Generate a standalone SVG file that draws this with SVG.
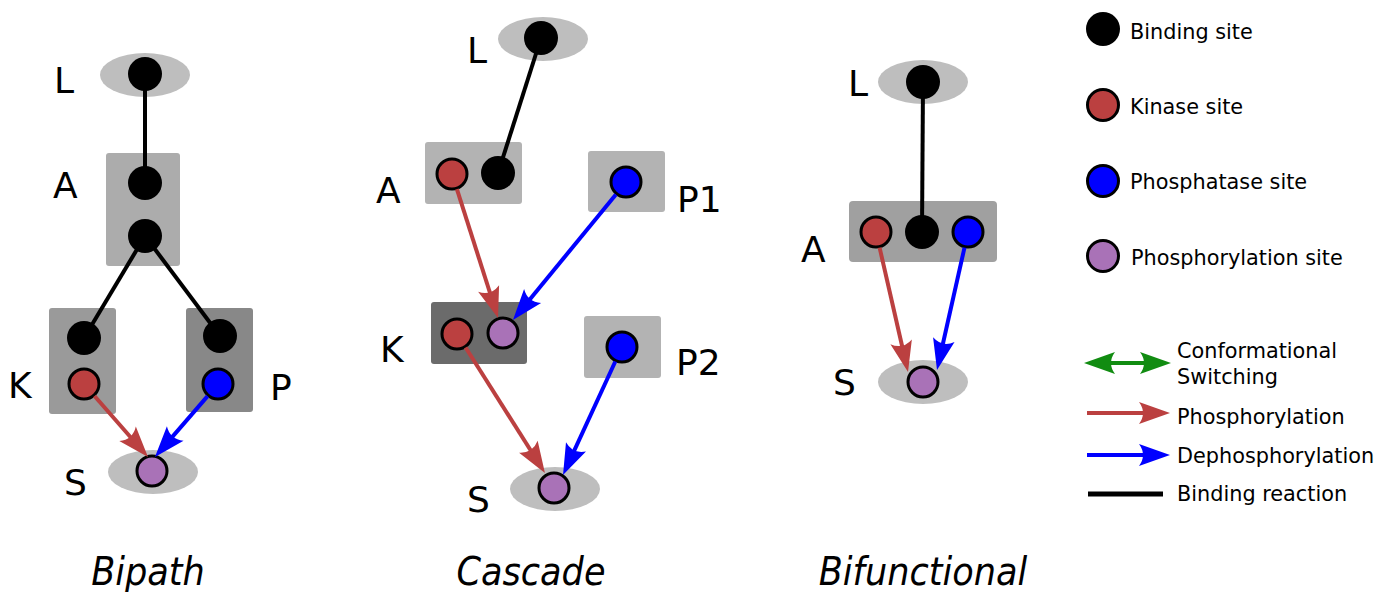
<svg xmlns="http://www.w3.org/2000/svg" width="1391" height="592" viewBox="0 0 1391 592">
<style>
text{font-family:"DejaVu Sans","Liberation Sans",sans-serif;fill:#000}
.lbl{font-size:36px}
.leg{font-size:20.8px}
.title{font-family:"DejaVu Sans Condensed","DejaVu Sans",sans-serif;font-stretch:condensed;font-style:oblique;font-size:39px;text-anchor:middle}
.ell{fill:#bebebe}
.bind{fill:#000}
.kin{fill:#bb4040;stroke:#000;stroke-width:3}
.pho{fill:#0000ff;stroke:#000;stroke-width:3}
.sub{fill:#a972b7;stroke:#000;stroke-width:3}
.bl{stroke:#000;stroke-width:4;fill:none}
.ra{stroke:#bb4040;stroke-width:4;fill:none;marker-end:url(#hr)}
.ba{stroke:#0000ff;stroke-width:4;fill:none;marker-end:url(#hb)}
</style>
<defs>
<marker id="hr" markerUnits="userSpaceOnUse" markerWidth="60" markerHeight="60" viewBox="-30 -30 60 60" refX="0" refY="0" orient="auto" overflow="visible"><path d="M10,0 L-21,-11 Q-13,0 -21,11 Z" fill="#bb4040"/></marker>
<marker id="hb" markerUnits="userSpaceOnUse" markerWidth="60" markerHeight="60" viewBox="-30 -30 60 60" refX="0" refY="0" orient="auto" overflow="visible"><path d="M10,0 L-21,-11 Q-13,0 -21,11 Z" fill="#0000ff"/></marker>
<marker id="hg" markerUnits="userSpaceOnUse" markerWidth="60" markerHeight="60" viewBox="-30 -30 60 60" refX="0" refY="0" orient="auto-start-reverse" overflow="visible"><path d="M10,0 L-21,-11 Q-13,0 -21,11 Z" fill="#118c11"/></marker>
</defs>
<rect width="1391" height="592" fill="#fff"/>

<!-- Bipath -->
<g id="bipath-L"><ellipse class="ell" cx="145" cy="75" rx="45" ry="22"/><circle class="bind" cx="145" cy="74" r="17"/><text class="lbl" x="54" y="93">L</text></g>
<g id="bipath-A"><rect x="106" y="153" width="74" height="113" rx="3" fill="#acacac"/><circle class="bind" cx="145" cy="183" r="17"/><circle class="bind" cx="145" cy="236" r="17"/><text class="lbl" x="53" y="198">A</text></g>
<g id="bipath-K"><rect x="49" y="308" width="67" height="106" rx="3" fill="#9a9a9a"/><circle class="bind" cx="84" cy="338" r="17"/><circle class="kin" cx="84" cy="384" r="15"/><text class="lbl" x="8" y="398">K</text></g>
<g id="bipath-P"><rect x="186" y="308" width="67" height="104" rx="3" fill="#888"/><circle class="bind" cx="220" cy="336" r="17"/><circle class="pho" cx="218" cy="384" r="15"/><text class="lbl" x="270" y="400">P</text></g>
<g id="bipath-S"><ellipse class="ell" cx="153" cy="472" rx="45" ry="22"/><circle class="sub" cx="152" cy="471" r="15"/><text class="lbl" x="64" y="495">S</text></g>

<!-- Cascade -->
<g id="cascade-L"><ellipse class="ell" cx="543" cy="39" rx="45" ry="22"/><circle class="bind" cx="541" cy="38" r="17"/><text class="lbl" x="467" y="63">L</text></g>
<g id="cascade-A"><rect x="425" y="142" width="97" height="62" rx="3" fill="#b3b3b3"/><circle class="kin" cx="452" cy="174" r="15"/><circle class="bind" cx="498" cy="173" r="17"/><text class="lbl" x="376" y="203">A</text></g>
<g id="cascade-P1"><rect x="588" y="151" width="77" height="61" rx="3" fill="#b3b3b3"/><circle class="pho" cx="626" cy="182" r="15"/><text class="lbl" x="677" y="212">P1</text></g>
<g id="cascade-K"><rect x="431" y="302" width="96" height="62" rx="3" fill="#6b6b6b"/><circle class="kin" cx="457" cy="334" r="15"/><circle class="sub" cx="503" cy="333" r="15"/><text class="lbl" x="380" y="362">K</text></g>
<g id="cascade-P2"><rect x="584" y="316" width="77" height="62" rx="3" fill="#b3b3b3"/><circle class="pho" cx="622" cy="347" r="15"/><text class="lbl" x="676" y="375">P2</text></g>
<g id="cascade-S"><ellipse class="ell" cx="555" cy="489" rx="45" ry="22"/><circle class="sub" cx="554" cy="488" r="15"/><text class="lbl" x="467" y="512">S</text></g>

<!-- Bifunctional -->
<g id="bif-L"><ellipse class="ell" cx="923" cy="82" rx="45" ry="22"/><circle class="bind" cx="923" cy="82" r="17"/><text class="lbl" x="848" y="96">L</text></g>
<g id="bif-A"><rect x="849" y="201" width="148" height="61" rx="4" fill="#a0a0a0"/><circle class="kin" cx="876" cy="232" r="15"/><circle class="bind" cx="922" cy="232" r="17"/><circle class="pho" cx="968" cy="232" r="15"/><text class="lbl" x="801" y="262">A</text></g>
<g id="bif-S"><ellipse class="ell" cx="923" cy="382" rx="45" ry="22"/><circle class="sub" cx="923" cy="382" r="15"/><text class="lbl" x="833" y="395">S</text></g>

<!-- Connectors -->
<g id="connectors">
<line class="bl" x1="145" y1="74" x2="145" y2="183"/>
<line class="bl" x1="145" y1="236" x2="84" y2="338"/>
<line class="bl" x1="145" y1="236" x2="220" y2="336"/>
<line class="ra" x1="94.5" y1="396" x2="141.4" y2="449.5"/>
<line class="ba" x1="207.6" y1="396.1" x2="161.5" y2="449.4"/>

<line class="bl" x1="541" y1="38" x2="498" y2="173"/>
<line class="ra" x1="456.9" y1="189.2" x2="495" y2="308.5"/>
<line class="ba" x1="615.9" y1="194.4" x2="519.3" y2="312.3"/>
<line class="ra" x1="465.6" y1="347.5" x2="539.6" y2="464.5"/>
<line class="ba" x1="615.3" y1="361.5" x2="567.2" y2="465.9"/>

<line class="bl" x1="923" y1="82" x2="922" y2="232"/>
<line class="ra" x1="879.6" y1="247.6" x2="905.8" y2="362.3"/>
<line class="ba" x1="964.5" y1="247.6" x2="939.2" y2="360.2"/>
</g>

<!-- Legend -->
<g id="legend">
<circle class="bind" cx="1103" cy="29" r="17"/><text class="leg" x="1130" y="39">Binding site</text>
<circle class="kin" cx="1103" cy="105" r="15.5"/><text class="leg" x="1130" y="114">Kinase site</text>
<circle class="pho" cx="1103" cy="181" r="15.5"/><text class="leg" x="1130" y="189">Phosphatase site</text>
<circle class="sub" cx="1103" cy="256" r="15.5"/><text class="leg" x="1131" y="265">Phosphorylation site</text>
<line x1="1094" y1="363" x2="1161" y2="363" stroke="#118c11" stroke-width="4" marker-start="url(#hg)" marker-end="url(#hg)"/>
<text class="leg" x="1177" y="358">Conformational</text><text class="leg" x="1177" y="384">Switching</text>
<line class="ra" x1="1087" y1="413" x2="1160" y2="413"/><text class="leg" x="1177" y="424">Phosphorylation</text>
<line class="ba" x1="1087" y1="455" x2="1160" y2="455"/><text class="leg" x="1177" y="463">Dephosphorylation</text>
<line x1="1088" y1="494" x2="1163" y2="494" stroke="#000" stroke-width="5"/><text class="leg" x="1177" y="501">Binding reaction</text>
</g>

<!-- Titles -->
<g id="titles">
<text class="title" x="148" y="585">Bipath</text>
<text class="title" x="531" y="585">Cascade</text>
<text class="title" x="923" y="585">Bifunctional</text>
</g>
</svg>
